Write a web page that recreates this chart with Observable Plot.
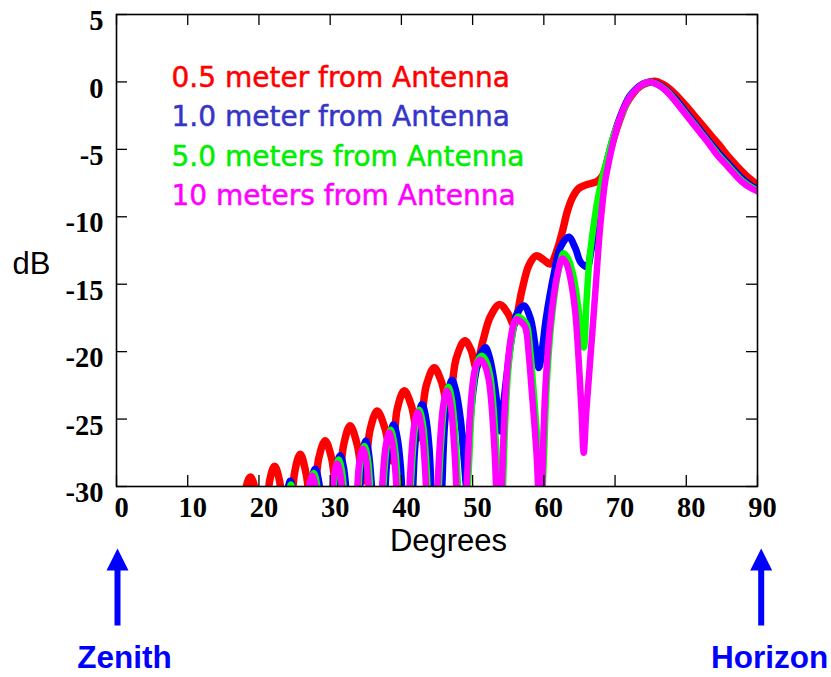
<!DOCTYPE html>
<html><head><meta charset="utf-8">
<script src="https://cdn.jsdelivr.net/npm/d3@7"></script>
<script src="https://cdn.jsdelivr.net/npm/@observablehq/plot@0.6"></script>
<style>body{margin:0;background:#fff}</style>
</head><body><div id="chart"></div>
<script>
const xTicks = [0, 10, 20, 30, 40, 50, 60, 70, 80, 90];
const yTicks = [5, 0, -5, -10, -15, -20, -25, -30];
const seriesNames = ["0.5 meter from Antenna", "1.0 meter from Antenna", "5.0 meters from Antenna", "10 meters from Antenna"];
const seriesColors = ["#ff0000", "#0000ff", "#00ff00", "#ff00ff"];
const legendColors = ["#ff0000", "#3535c8", "#00ee00", "#ff00ff"];
const annotations = ["Zenith", "Horizon"];
const annotationAngles = [0, 90];

// [degrees, dB]
const dist05 = [[17.0,-40],[18.1,-30.3],[18.8,-29.3],[19.5,-30.3],[20.5,-37],
[21.5,-29.6],[22.2,-28.5],[22.9,-29.6],[24.0,-36],
[25.0,-29.0],[25.8,-27.6],[26.6,-29.0],[27.5,-32],
[28.4,-27.9],[29.3,-26.6],[30.2,-27.9],[31.0,-30.8],
[31.9,-26.9],[32.8,-25.5],[33.8,-26.9],[34.7,-29.6],
[35.6,-25.8],[36.6,-24.4],[37.7,-25.7],[38.7,-28.1],
[39.4,-24.3],[40.4,-22.9],[41.4,-24.0],[42.4,-26.4],
[43.5,-22.5],[44.6,-21.2],[45.6,-22.2],[46.6,-24.1],
[47.7,-20.5],[48.9,-19.2],[49.8,-19.9],[50.5,-21.2],
[51.4,-19.3],[52.5,-17.4],[53.8,-16.5],[55.0,-17.2],[55.8,-18.0],
[56.9,-15.5],[57.9,-13.6],[58.9,-12.9],[60.0,-13.2],[60.9,-13.5],
[61.9,-12.4],[62.6,-11.1],[63.3,-9.6],[64.0,-8.6],[64.9,-7.9],[66.1,-7.6],[67.4,-7.4],[68.2,-7.0],
[69.0,-5.7],[69.8,-4.2],[70.6,-2.9],[71.6,-1.6],[72.6,-0.8],[73.6,-0.3],[74.6,-0.05],[75.6,0.05],[76.6,-0.15],[77.6,-0.5],[78.7,-1.05],[79.9,-1.75],[81.1,-2.5],[82.3,-3.25],[83.5,-4.0],[84.7,-4.75],[85.9,-5.55],[87.1,-6.25],[88.3,-6.9],[89.3,-7.35],[90.0,-7.6]];

const dist10 = [[22.7,-40],[23.85,-31.0],[24.4,-29.6],[24.95,-31.0],[26.1,-40],
[27.1,-30.7],[27.9,-28.7],[28.7,-30.7],[29.6,-40],
[30.4,-31.5],[30.9,-28.6],[31.4,-27.7],[31.9,-28.6],[32.4,-31.5],[33.2,-40],
[33.8,-33],[34.2,-29.8],[34.6,-27.5],[35.0,-26.6],[35.4,-27.5],[35.8,-29.8],[36.2,-33],[37.0,-40],
[37.5,-33.4],[37.9,-28.6],[38.4,-26.3],[38.9,-25.4],[39.4,-26.3],[39.9,-28.6],[40.3,-33.4],[40.9,-40],
[41.5,-31.9],[41.9,-27.1],[42.4,-24.8],[42.9,-23.9],[43.4,-24.8],[43.9,-27.1],[44.3,-31.9],[45.0,-40],
[45.7,-30.1],[46.1,-25.3],[46.6,-23.0],[47.1,-22.1],[47.6,-22.8],[48.3,-25.0],[48.8,-28.0],[49.15,-30.0],
[49.6,-25.5],[50.4,-21.7],[51.1,-20.2],[51.8,-19.7],[52.3,-20.3],[52.8,-21.5],[53.4,-23.7],[53.9,-25.9],
[54.4,-23.6],[54.9,-21.3],[55.6,-18.6],[56.3,-17.1],[57.2,-16.6],[58.1,-17.5],[58.8,-19.6],[59.3,-21.2],
[59.8,-19.7],[60.3,-17.6],[61.4,-14.3],[62.3,-12.3],[63.5,-11.5],[64.4,-12.3],[65.2,-13.4],[66.1,-13.7],
[66.6,-12.6],[67.2,-10.8],[67.7,-9.2],[68.2,-7.6],[68.8,-6.1],[69.5,-4.6],[70.3,-3.2],[71.1,-2.1],[72.0,-1.1],[73.0,-0.5],[73.9,-0.15],[74.8,0],[75.7,-0.1],[76.6,-0.35],[77.5,-0.74],[78.6,-1.35],[79.8,-2.15],[81.0,-2.95],[82.2,-3.75],[83.4,-4.55],[84.5,-5.25],[85.7,-5.95],[86.9,-6.65],[88.0,-7.25],[89.1,-7.7],[90.0,-7.95]];

const dist50 = [[23.0,-40],[24.0,-31.0],[24.5,-29.85],[25.0,-31.0],[26.0,-40],
[26.8,-33],[27.2,-30.0],[27.7,-29.0],[28.2,-30.0],[28.6,-33],[29.4,-40],
[30.3,-32],[30.7,-29.0],[31.2,-28.0],[31.7,-29.0],[32.1,-32],[33.0,-40],
[33.9,-31],[34.3,-28.0],[34.8,-27.0],[35.3,-28.0],[35.7,-31],[36.6,-40],
[37.15,-33.8],[37.5,-29.8],[38.0,-26.8],[38.5,-25.8],[39.0,-26.8],[39.5,-29.8],[39.85,-33.8],[40.5,-40],
[41.15,-32.3],[41.5,-28.3],[42.0,-25.3],[42.5,-24.3],[43.0,-25.3],[43.5,-28.3],[43.85,-32.3],[44.5,-40],
[45.2,-30.6],[45.6,-26.6],[46.1,-23.6],[46.6,-22.6],[47.1,-23.6],[47.6,-26.6],[48.0,-30.6],[48.8,-40],
[49.1,-33],[49.5,-28.3],[50.1,-22.6],[50.7,-20.7],[51.3,-20.3],[51.9,-20.7],[52.5,-21.9],[53.2,-26.2],[53.6,-30.5],[53.9,-35],
[54.2,-31],[54.6,-25.0],[55.0,-21.4],[55.5,-19.0],[56.0,-17.7],[56.4,-17.4],[57.0,-17.6],[57.6,-18.0],[58.1,-20.0],[58.5,-22.5],[59.2,-27.4],[59.65,-31.5],
[60.0,-28],[60.4,-22.5],[61.1,-17.6],[62.1,-13.9],[62.8,-12.7],[63.5,-13.2],[64.2,-14.5],[64.9,-17.0],[65.6,-19.7],[66.0,-16.2],[66.4,-13.2],[67.0,-10.6],[67.6,-8.6],[68.2,-7.1],[68.9,-5.7],[69.6,-4.3],[70.4,-3.1],[71.2,-2.1],[72.1,-1.1],[73.1,-0.5],[74.0,-0.15],[74.8,0],[75.6,-0.1],[76.5,-0.35],[77.4,-0.74],[78.5,-1.4],[79.7,-2.2],[80.9,-3.0],[82.1,-3.8],[83.3,-4.6],[84.4,-5.35],[85.6,-6.05],[86.8,-6.75],[87.9,-7.35],[89.1,-7.8],[90.0,-8.05]];

const dist100 = [[25.5,-40],
[26.6,-33.2],[27.0,-30.2],[27.5,-29.2],[28.0,-30.2],[28.4,-33.2],[29.3,-40],
[30.1,-32.3],[30.5,-29.3],[31.0,-28.3],[31.5,-29.3],[31.9,-32.3],[32.8,-40],
[33.7,-31.2],[34.1,-28.2],[34.6,-27.2],[35.1,-28.2],[35.5,-31.2],[36.5,-40],
[36.95,-34.0],[37.3,-30.0],[37.8,-27.0],[38.3,-26.0],[38.8,-27.0],[39.3,-30.0],[39.65,-34.0],[40.3,-40],
[40.95,-32.5],[41.3,-28.5],[41.8,-25.5],[42.3,-24.5],[42.8,-25.5],[43.3,-28.5],[43.65,-32.5],[44.4,-40],
[45.0,-30.9],[45.4,-26.9],[45.9,-23.9],[46.4,-22.9],[46.9,-23.9],[47.4,-26.9],[47.8,-30.9],[48.7,-40],
[48.95,-33],[49.3,-28.5],[49.9,-22.9],[50.5,-21.0],[51.1,-20.6],[51.7,-21.0],[52.3,-22.2],[53.0,-26.6],[53.35,-31],[53.65,-40],
[54.0,-32],[54.4,-25.5],[54.8,-21.7],[55.3,-19.2],[55.8,-17.9],[56.2,-17.6],[56.8,-17.8],[57.4,-18.2],[57.9,-20.3],[58.3,-22.9],[59.0,-27.8],[59.3,-32],[59.5,-38],
[59.8,-29],[60.2,-22.9],[60.9,-18.0],[61.9,-14.3],[62.6,-13.1],[63.2,-13.5],[63.7,-14.5],[64.4,-17.0],[64.9,-20.7],[65.3,-24.5],[65.6,-27.5],[65.95,-24.5],[66.5,-20.7],[67.2,-15.8],[67.9,-10.8],[68.6,-7.4],[69.3,-5.5],[69.9,-4.1],[70.5,-3.0],[71.2,-2.0],[72.1,-1.1],[73.1,-0.5],[73.9,-0.15],[74.7,0],[75.5,-0.1],[76.4,-0.35],[77.3,-0.74],[78.4,-1.4],[79.6,-2.2],[80.8,-3.0],[82.0,-3.8],[83.2,-4.6],[84.3,-5.4],[85.5,-6.1],[86.7,-6.8],[87.8,-7.4],[89.0,-7.85],[90.0,-8.1]];

const seriesData = [dist05, dist10, dist50, dist100];
const strokeWidths = [7.5, 7, 6.5, 6.5];

const W = 831, H = 677;
const mL = 116, mR = 74, mT = 14, mB = 191;
const frameW = W - mL - mR, frameH = H - mT - mB;

const arrowSymbol = {
  draw(ctx) {
    ctx.moveTo(0, 0);
    ctx.lineTo(11, 22);
    ctx.lineTo(3, 22);
    ctx.lineTo(3, 77);
    ctx.lineTo(-3, 77);
    ctx.lineTo(-3, 22);
    ctx.lineTo(-11, 22);
    ctx.closePath();
  }
};

const fmtY = d => d < 0 ? "-" + Math.abs(d) : String(d);
const serif = "'Liberation Serif', 'Times New Roman', serif";
const sans = "'Liberation Sans', Arial, sans-serif";

const marks = [];
seriesData.forEach((pts, i) => {
  marks.push(Plot.line(pts.map(([deg, db]) => ({deg, db, series: seriesNames[i]})), {
    x: "deg", y: "db", stroke: seriesColors[i], strokeWidth: strokeWidths[i],
    curve: "catmull-rom", clip: true
  }));
});
marks.push(Plot.frame({stroke: "black", strokeWidth: 1.6}));
marks.push(Plot.tickX(xTicks, {x: d => d, insetTop: frameH - 11, stroke: "black", strokeWidth: 1.3}));
marks.push(Plot.tickX(xTicks, {x: d => d, insetBottom: frameH - 11, stroke: "black", strokeWidth: 1.3}));
marks.push(Plot.tickY(yTicks, {y: d => d, insetRight: frameW - 11, stroke: "black", strokeWidth: 1.3}));
marks.push(Plot.tickY(yTicks, {y: d => d, insetLeft: frameW - 11, stroke: "black", strokeWidth: 1.3}));
marks.push(Plot.text(xTicks, {x: d => d, text: d => String(d), frameAnchor: "bottom", lineAnchor: "middle", dy: 21, dx: 5,
  fontFamily: serif, fontWeight: "bold", fontSize: 28.5, fill: "black"}));
marks.push(Plot.text(yTicks, {y: d => d, text: fmtY, frameAnchor: "left", lineAnchor: "middle", textAnchor: "end", dx: -13, dy: 6.5,
  fontFamily: serif, fontWeight: "bold", fontSize: 28.5, fill: "black"}));
seriesNames.forEach((name, i) => {
  marks.push(Plot.text([name], {text: d => d, frameAnchor: "top-left", lineAnchor: "middle", textAnchor: "start",
    dx: 55, dy: 63.5 + i * 39.5, fill: legendColors[i], stroke: legendColors[i], strokeWidth: 0.5,
    fontFamily: "'DejaVu Sans', sans-serif", fontSize: 28}));
});
marks.push(Plot.text(["dB"], {text: d => d, frameAnchor: "top-left", lineAnchor: "middle", textAnchor: "start", dx: -104, dy: 250,
  fontFamily: sans, fontSize: 31, fill: "black"}));
marks.push(Plot.text(["Degrees"], {text: d => d, frameAnchor: "bottom", lineAnchor: "middle", dx: 11.5, dy: 55,
  fontFamily: sans, fontSize: 31, fill: "black"}));
const arrowDx = [1, 3.7];
const labelDx = [8, 12];
annotations.forEach((label, i) => {
  marks.push(Plot.dot([annotationAngles[i]], {x: d => d, frameAnchor: "bottom", dy: 62, dx: arrowDx[i],
    symbol: arrowSymbol, fill: "#0000ff", stroke: "none"}));
  marks.push(Plot.text([annotationAngles[i]], {x: d => d, text: () => label, frameAnchor: "bottom", lineAnchor: "middle", dy: 171.5, dx: labelDx[i],
    fontFamily: sans, fontWeight: "bold", fontSize: 31.5, fill: "#0000ff"}));
});

const chart = Plot.plot({
  width: W, height: H,
  marginLeft: mL, marginRight: mR, marginTop: mT, marginBottom: mB,
  x: {domain: [0, 90], axis: null},
  y: {domain: [-30, 5], axis: null},
  style: {background: "white", overflow: "visible"},
  marks
});
document.getElementById("chart").appendChild(chart);
</script>
</body></html>
